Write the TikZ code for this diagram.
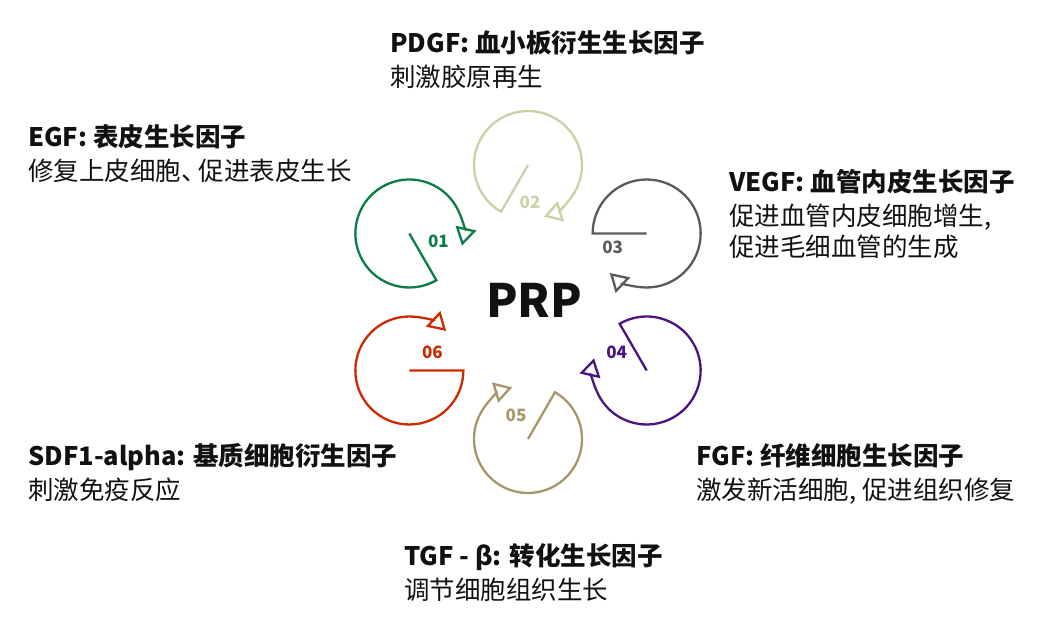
\documentclass[tikz,border=0pt]{standalone}
\usepackage{fontspec}
\setmainfont{Noto Sans CJK SC}
\usetikzlibrary{arrows.meta}
\definecolor{egfgreen}{HTML}{0B7D46}
\definecolor{pdgfsage}{HTML}{CDCFA6}
\definecolor{vegfgray}{HTML}{5A5A5A}
\definecolor{fgfpurple}{HTML}{4B137F}
\definecolor{tgfkhaki}{HTML}{A6976A}
\definecolor{sdfred}{HTML}{CC2900}
\definecolor{ink}{HTML}{111111}
\tikzset{
  ring/.style={line width=2.3pt, -{Triangle[open, length=18pt, width=21pt]}},
  num/.style={font=\fontsize{17pt}{19pt}\selectfont\bfseries, inner sep=0pt},
  lab/.style={anchor=base west, align=left, inner sep=0pt, text=ink,
    font=\fontsize{25.5pt}{31pt}\selectfont},
}

\begin{document}
\begin{tikzpicture}[x=1pt,y=1pt]
  \useasboundingbox (0,0) rectangle (1047,626);
  \coordinate (hub) at (528,324);
  \node[font=\fontsize{46pt}{48pt}\selectfont\bfseries, text=ink, anchor=base] (prp) at (534,308) {PRP};
  % six rings around the hub
  \foreach \n/\a/\col/\dx/\dy in {01/150/egfgreen/29/-8, 02/90/pdgfsage/2/-37,
      03/30/vegfgray/-34/-14, 04/-30/fgfpurple/-30/18, 05/-90/tgfkhaki/-12/24,
      06/-150/sdfred/23/18} {
    \coordinate (c\n) at ([shift={(\a:137)}]hub);
    \draw[ring, \col] (c\n) -- ++(\a+150:54) arc[start angle=\a+150, delta angle=-313, radius=54];
    \node[num, text=\col] (n\n) at ([shift={(\dx,\dy)}]c\n) {\n};
  }
  % labels, placed by the baseline of their last line
  \node[lab] (pdgf) at (390,539) {{\bfseries PDGF: 血小板衍生生长因子}\\[3pt]刺激胶原再生};
  \node[lab] (egf) at (28,445) {{\bfseries EGF: 表皮生长因子}\\[3pt]修复上皮细胞、\kern-8pt促进表皮生长};
  \node[lab] (vegf) at (729,369) {{\bfseries VEGF: 血管内皮生长因子}\\[3pt]促进血管内皮细胞增生,\\促进毛细血管的生成};
  \node[lab] (sdf) at (28,126) {{\bfseries SDF1-alpha: 基质细胞衍生因子}\\[3pt]刺激免疫反应};
  \node[lab] (fgf) at (696,126) {{\bfseries FGF: 纤维细胞生长因子}\\[3pt]激发新活细胞, 促进组织修复};
  \node[lab] (tgf) at (404,26) {{\bfseries TGF - β: 转化生长因子}\\[3pt]调节细胞组织生长};
\end{tikzpicture}
\end{document}
